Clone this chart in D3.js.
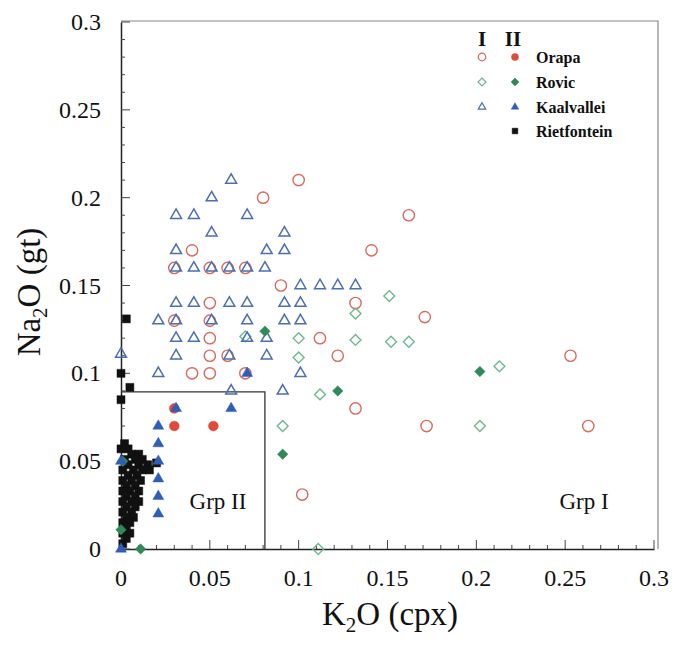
<!DOCTYPE html>
<html><head><meta charset="utf-8">
<script src="https://cdn.jsdelivr.net/npm/d3@7"></script>
<style>body{margin:0;background:#fff}svg{display:block}</style>
</head><body><svg id="c" width="676" height="648"></svg>
<script>
// ---- data ----
const xTicks = [0, 0.05, 0.1, 0.15, 0.2, 0.25, 0.3];
const yTicks = [0, 0.05, 0.1, 0.15, 0.2, 0.25, 0.3];
const xTickLabels = ["0", "0.05", "0.1", "0.15", "0.2", "0.25", "0.3"];
const yTickLabels = ["0", "0.05", "0.1", "0.15", "0.2", "0.25", "0.3"];
const legendNames = ["Orapa", "Rovic", "Kaalvallei", "Rietfontein"];

// Orapa group I (open circles)
const orapaI = [[0.1,0.21],[0.08,0.2],[0.162,0.19],[0.141,0.17],[0.04,0.17],
 [0.03,0.16],[0.05,0.16],[0.06,0.16],[0.07,0.16],[0.09,0.15],[0.05,0.14],[0.132,0.14],
 [0.03,0.13],[0.05,0.13],[0.05,0.12],[0.112,0.12],[0.05,0.11],[0.06,0.11],[0.122,0.11],
 [0.04,0.1],[0.05,0.1],[0.07,0.1],[0.132,0.08],[0.172,0.07],[0.253,0.11],[0.263,0.07],
 [0.102,0.031],[0.171,0.132]];
// Orapa group II (filled circles)
const orapaII = [[0.03,0.08],[0.03,0.07],[0.052,0.07]];
// Rovic group I (open diamonds)
const rovicI = [[0.151,0.144],[0.132,0.134],[0.1,0.12],[0.132,0.119],[0.152,0.118],[0.162,0.118],
 [0.1,0.109],[0.112,0.088],[0.091,0.07],[0.202,0.07],[0.213,0.104],[0.111,0.0],[0.07,0.121]];
// Rovic group II (filled diamonds)
const rovicII = [[0.081,0.124],[0.122,0.09],[0.091,0.054],[0.202,0.101],[0.011,0.0],[0.001,0.05],[0.0,0.011]];
// Kaalvallei group I (open triangles)
const kaalI = [[0.062,0.21],[0.051,0.2],[0.031,0.19],[0.041,0.19],[0.071,0.19],[0.051,0.18],[0.092,0.18],
 [0.031,0.17],[0.082,0.17],[0.092,0.17],
 [0.031,0.16],[0.041,0.16],[0.051,0.16],[0.061,0.16],[0.071,0.16],[0.081,0.16],
 [0.101,0.15],[0.112,0.15],[0.122,0.15],[0.132,0.15],
 [0.031,0.14],[0.041,0.14],[0.061,0.14],[0.071,0.14],[0.092,0.14],[0.101,0.14],
 [0.021,0.13],[0.031,0.13],[0.051,0.13],[0.071,0.13],[0.092,0.13],[0.101,0.13],
 [0.031,0.12],[0.041,0.12],[0.071,0.12],[0.082,0.12],
 [0.031,0.11],[0.061,0.11],[0.082,0.11],[0.021,0.1],[0.101,0.1],[0.062,0.09],[0.091,0.09],
 [0.0,0.111]];
// Kaalvallei group II (filled triangles)
const kaalII = [[0.071,0.1],[0.062,0.08],[0.031,0.08],[0.021,0.07],[0.021,0.06],[0.021,0.05],
 [0.021,0.04],[0.021,0.03],[0.021,0.02],[0.0,0.0],[0.0,0.05]];
// Rietfontein (filled squares)
const riet = [[0.003,0.131],[0.0,0.1],[0.005,0.092],[0.0,0.085],[0.02,0.049],
 [0.002,0.06],[0.0,0.057],[0.004,0.057],[0.006,0.054],[0.01,0.054],
 [0.002,0.051],[0.008,0.051],[0.012,0.051],[0.004,0.048],[0.01,0.048],[0.015,0.048],
 [0.001,0.045],[0.007,0.045],[0.012,0.045],[0.016,0.045],[0.004,0.042],[0.009,0.042],
 [0.001,0.039],[0.006,0.039],[0.011,0.039],[0.003,0.036],[0.008,0.036],
 [0.001,0.033],[0.005,0.033],[0.01,0.033],[0.003,0.03],[0.008,0.03],
 [0.001,0.027],[0.006,0.027],[0.01,0.027],[0.003,0.024],[0.008,0.024],
 [0.001,0.021],[0.006,0.021],[0.003,0.018],[0.007,0.018],[0.001,0.015],[0.005,0.015],
 [0.003,0.012],[0.001,0.009],[0.005,0.009],[0.003,0.006],[0.001,0.003]];
// Grp II box limits
const grpIIBox = {x: 0.081, y: 0.0895};

// ---- drawing ----
const svg = d3.select("#c");
const serif = "'Liberation Serif', 'Times New Roman', serif";
const x = d3.scaleLinear().domain([0, 0.3]).range([121, 654]);
const y = d3.scaleLinear().domain([0, 0.3]).range([549, 22]);

const C = {redO:"#d8695c", redF:"#df4a3a", grnO:"#6fb791", grnF:"#2f8a57", bluO:"#4a6fb3", bluF:"#2f5db8"};

// frame (top/right)
svg.append("path").attr("d", `M${x(0)},21 H658 V${y(0)}`).attr("fill","none").attr("stroke","#888").attr("stroke-width",1.2);

// axes
const minor = d3.range(0, 0.3001, 0.01);
const xAx = d3.axisBottom(x).tickValues(minor).tickSize(0).tickFormat("");
svg.append("g").attr("transform",`translate(0,${y(0)})`).call(xAx).call(g=>g.select(".domain").attr("stroke","#222").attr("stroke-width",1.5));
const yAx = d3.axisLeft(y).tickValues(minor).tickSize(0).tickFormat("");
svg.append("g").attr("transform",`translate(${x(0)},0)`).call(yAx).call(g=>g.select(".domain").attr("stroke","#222").attr("stroke-width",1.5));
// inward ticks
svg.append("g").selectAll("line").data(minor).join("line")
  .attr("x1", d=>x(d)).attr("x2", d=>x(d)).attr("y1", y(0))
  .attr("y2", (d,i)=> y(0) - (i%5===0 ? 9 : 4)).attr("stroke","#444").attr("stroke-width",1);
svg.append("g").selectAll("line").data(minor).join("line")
  .attr("y1", d=>y(d)).attr("y2", d=>y(d)).attr("x1", x(0))
  .attr("x2", (d,i)=> x(0) + (i%5===0 ? 9 : 4)).attr("stroke","#444").attr("stroke-width",1);

// tick labels
svg.append("g").selectAll("text").data(xTicks).join("text")
  .attr("x", d=>x(d)).attr("y", 586).attr("text-anchor","middle")
  .attr("font-family", serif).attr("font-size", 24).attr("fill","#111")
  .text((d,i)=>xTickLabels[i]);
svg.append("g").selectAll("text").data(yTicks).join("text")
  .attr("x", 101).attr("y", d=>y(d)+8).attr("text-anchor","end")
  .attr("font-family", serif).attr("font-size", 24).attr("fill","#111")
  .text((d,i)=>yTickLabels[i]);

// axis titles
const xt = svg.append("text").attr("x", 390).attr("y", 625).attr("text-anchor","middle")
  .attr("font-family", serif).attr("font-size", 33).attr("fill","#111");
xt.append("tspan").text("K");
xt.append("tspan").attr("font-size",21).attr("dy",7).text("2");
xt.append("tspan").attr("dy",-7).text("O (cpx)");
const yt = svg.append("text").attr("transform","translate(40,292) rotate(-90)").attr("text-anchor","middle")
  .attr("font-family", serif).attr("font-size", 33).attr("fill","#111");
yt.append("tspan").text("Na");
yt.append("tspan").attr("font-size",21).attr("dy",7).text("2");
yt.append("tspan").attr("dy",-7).text("O (gt)");

// Grp II box
svg.append("path").attr("d", `M${x(0)},${y(grpIIBox.y)} H${x(grpIIBox.x)} V${y(0)}`)
  .attr("fill","none").attr("stroke","#333").attr("stroke-width",1.3);
svg.append("text").attr("x", 218).attr("y", 509).attr("text-anchor","middle")
  .attr("font-family", serif).attr("font-size", 23).attr("fill","#111").text("Grp II");
svg.append("text").attr("x", 584).attr("y", 509).attr("text-anchor","middle")
  .attr("font-family", serif).attr("font-size", 23).attr("fill","#111").text("Grp I");

// symbols
const sym = (type, size) => d3.symbol().type(type).size(size)();
function plot(data, type, size, fill, stroke, sw) {
  svg.append("g").selectAll("path").data(data).join("path")
    .attr("d", sym(type, size))
    .attr("transform", d=>`translate(${x(d[0])},${y(d[1])})`)
    .attr("fill", fill).attr("stroke", stroke).attr("stroke-width", sw);
}
plot(orapaI, d3.symbolCircle, 100, "none", C.redO, 1.4);
plot(rovicI, d3.symbolDiamond2, 75, "none", C.grnO, 1.4);
plot(kaalI, d3.symbolTriangle2, 85, "none", C.bluO, 1.5);
plot(riet, d3.symbolSquare, 64, "#111", "#111", 0.5);
plot(orapaII, d3.symbolCircle, 75, C.redF, C.redF, 0.5);
plot(rovicII, d3.symbolDiamond2, 70, C.grnF, C.grnF, 0.5);
plot(kaalII, d3.symbolTriangle2, 85, C.bluF, C.bluF, 0.5);

// legend
const lg = svg.append("g");
lg.append("text").attr("x",482).attr("y",46).attr("text-anchor","middle").attr("font-family",serif).attr("font-size",21).attr("font-weight","bold").attr("fill","#111").text("I");
lg.append("text").attr("x",513).attr("y",46).attr("text-anchor","middle").attr("font-family",serif).attr("font-size",21).attr("font-weight","bold").attr("fill","#111").text("II");
const legRows = [
  {name: legendNames[0], y: 57, o: [d3.symbolCircle, 45, "none", C.redO], f: [d3.symbolCircle, 40, C.redF, C.redF]},
  {name: legendNames[1], y: 82, o: [d3.symbolDiamond2, 40, "none", C.grnO], f: [d3.symbolDiamond2, 40, C.grnF, C.grnF]},
  {name: legendNames[2], y: 107, o: [d3.symbolTriangle2, 40, "none", C.bluO], f: [d3.symbolTriangle2, 40, C.bluF, C.bluF]},
  {name: legendNames[3], y: 131, o: null, f: [d3.symbolSquare, 32, "#111", "#111"]}
];
legRows.forEach(r => {
  if (r.o) lg.append("path").attr("d", sym(r.o[0], r.o[1])).attr("transform",`translate(482,${r.y})`).attr("fill",r.o[2]).attr("stroke",r.o[3]).attr("stroke-width",1.2);
  lg.append("path").attr("d", sym(r.f[0], r.f[1])).attr("transform",`translate(515,${r.y})`).attr("fill",r.f[2]).attr("stroke",r.f[3]).attr("stroke-width",0.5);
  lg.append("text").attr("x",536).attr("y",r.y+6).attr("font-family",serif).attr("font-size",16).attr("font-weight","bold").attr("fill","#111").text(r.name);
});
</script></body></html>
